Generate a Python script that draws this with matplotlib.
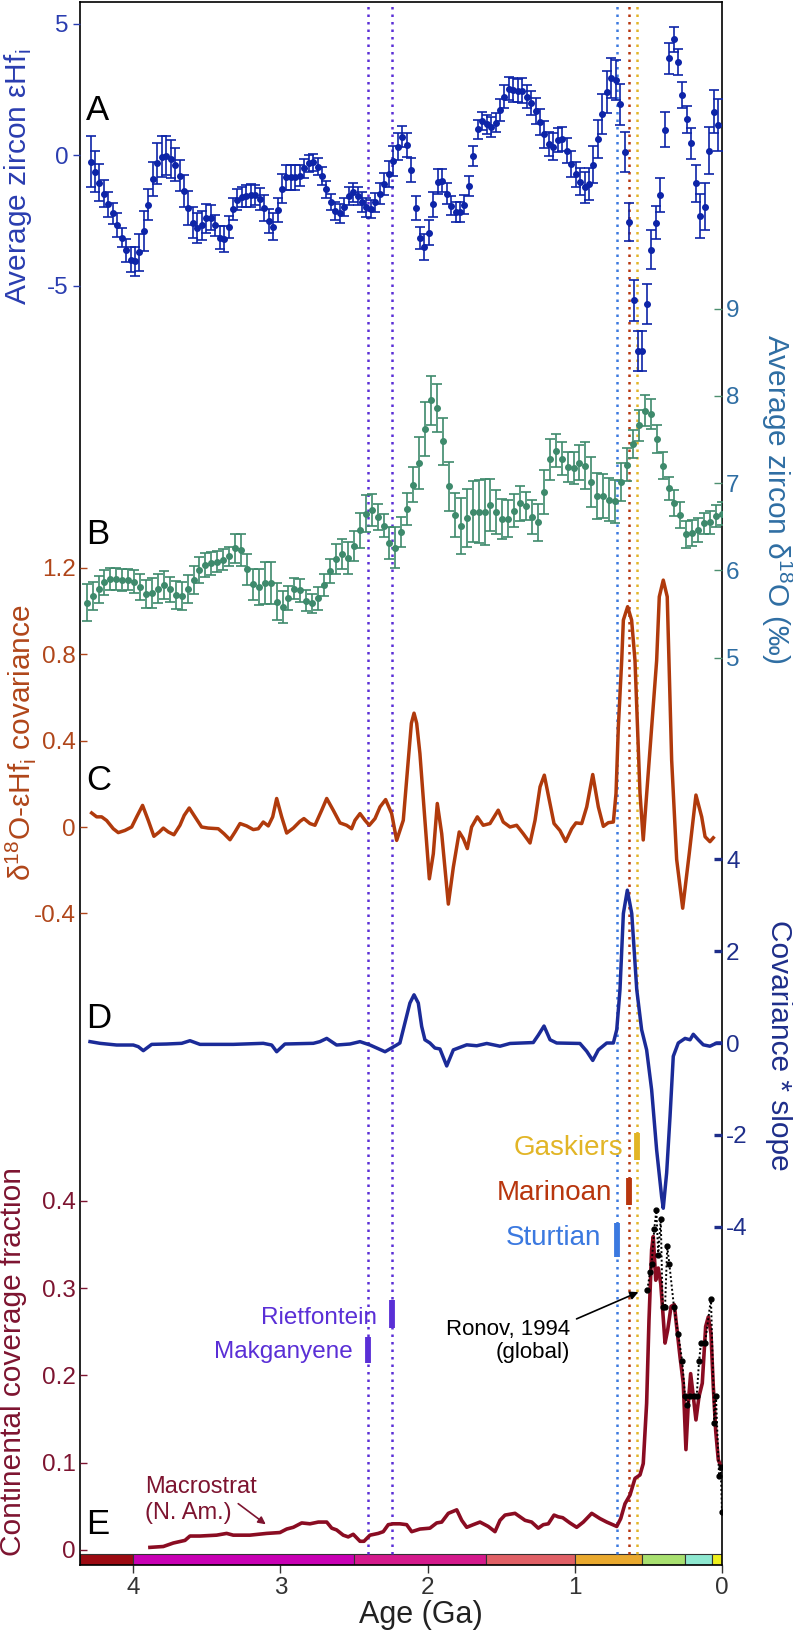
import numpy as np
import matplotlib
matplotlib.use('Agg')
import matplotlib.pyplot as plt

plt.rcParams['font.family'] = ['Liberation Sans', 'DejaVu Sans']
plt.rcParams['mathtext.fontset'] = 'custom'
plt.rcParams['mathtext.rm'] = 'Liberation Sans'
plt.rcParams['axes.unicode_minus'] = False

# ---- data ----
# A: average zircon eHf_i, bins every ~0.03 Ga (old -> young)
AGE_A = np.round(np.linspace(4.289, 0.027, 142), 3)
HF = [-0.26, -0.63, -1.06, -1.47, -1.88, -2.23, -2.68, -3.15, -3.64, -3.99,
      -4.06, -3.72, -2.90, -1.89, -0.92, -0.32, -0.06, -0.03, -0.14, -0.37,
      -0.79, -1.38, -2.03, -2.58, -2.77, -2.69, -2.42, -2.39, -2.69, -3.15,
      -3.21, -2.74, -2.07, -1.70, -1.62, -1.57, -1.54, -1.53, -1.68, -2.02,
      -2.51, -2.74, -2.10, -1.28, -0.85, -0.85, -0.85, -0.79, -0.51, -0.32,
      -0.28, -0.45, -0.80, -1.31, -1.79, -2.13, -2.23, -1.98, -1.56, -1.43,
      -1.57, -1.80, -2.00, -2.07, -1.81, -1.47, -1.11, -0.73, -0.24, 0.32,
      0.70, 0.38, -0.57, -2.02, -3.16, -3.51, -2.96, -1.88, -1.02, -0.98,
      -1.47, -1.94, -2.17, -2.17, -1.89, -1.19, -0.03, 0.98, 1.31, 1.17,
      1.07, 1.24, 1.71, 2.23, 2.53, 2.49, 2.46, 2.45, 2.23, 1.98,
      1.68, 1.26, 0.79, 0.41, 0.32, 0.57, 0.60, 0.17, -0.33, -0.73,
      -1.02, -1.24, -1.11, -0.37, 0.61, 1.56, 2.41, 2.95, 2.87, 1.93,
      0.11, -2.56, -5.55, -7.48, -7.48, -5.68, -3.61, -2.58, -1.54, 0.97,
      3.69, 4.41, 3.55, 2.30, 1.36, 0.45, -1.08, -2.33, -1.98, 0.17,
      1.66, 1.15]
HF_ERR = [0.97, 0.77, 0.70, 0.51, 0.48, 0.40, 0.45, 0.35, 0.43, 0.48,
          0.55, 0.70, 0.75, 0.60, 0.64, 0.77, 0.77, 0.75, 0.73, 0.64,
          0.60, 0.60, 0.65, 0.60, 0.57, 0.56, 0.54, 0.48, 0.41, 0.45,
          0.51, 0.41, 0.41, 0.41, 0.38, 0.41, 0.43, 0.38, 0.41, 0.48,
          0.45, 0.51, 0.45, 0.54, 0.48, 0.48, 0.48, 0.41, 0.36, 0.33,
          0.32, 0.32, 0.35, 0.32, 0.32, 0.35, 0.37, 0.34, 0.33, 0.38,
          0.35, 0.38, 0.35, 0.35, 0.35, 0.40, 0.41, 0.51, 0.57, 0.51,
          0.40, 0.45, 0.45, 0.46, 0.43, 0.48, 0.47, 0.47, 0.47, 0.45,
          0.41, 0.36, 0.38, 0.38, 0.38, 0.38, 0.39, 0.36, 0.35, 0.35,
          0.38, 0.37, 0.43, 0.43, 0.43, 0.45, 0.45, 0.47, 0.45, 0.45,
          0.48, 0.51, 0.52, 0.45, 0.51, 0.45, 0.46, 0.48, 0.50, 0.48,
          0.51, 0.60, 0.60, 0.70, 0.73, 0.77, 0.80, 0.77, 0.77, 0.77,
          0.75, 0.74, 0.77, 0.76, 0.76, 0.77, 0.73, 0.64, 0.65, 0.67,
          0.59, 0.48, 0.48, 0.49, 0.51, 0.59, 0.70, 0.85, 0.90, 0.90,
          0.83, 0.99]

# B: average zircon d18O, bins every ~0.04 Ga (old -> young)
AGE_B = np.round(np.linspace(4.316, 0.0, 108), 3)
D18O = [5.63, 5.70, 5.78, 5.86, 5.90, 5.90, 5.89, 5.89, 5.87, 5.81,
        5.73, 5.74, 5.79, 5.83, 5.78, 5.72, 5.70, 5.78, 5.89, 6.00,
        6.06, 6.08, 6.10, 6.12, 6.16, 6.25, 6.23, 6.01, 5.84, 5.81,
        5.85, 5.85, 5.64, 5.58, 5.68, 5.79, 5.77, 5.65, 5.62, 5.68,
        5.83, 5.99, 6.13, 6.19, 6.14, 6.28, 6.46, 6.65, 6.69, 6.61,
        6.51, 6.31, 6.26,
        6.44, 6.70, 6.98, 7.23, 7.62, 7.95, 7.86, 7.48, 6.96, 6.63,
        6.51, 6.60, 6.67, 6.67, 6.67, 6.75, 6.67, 6.59, 6.59, 6.68,
        6.77, 6.74, 6.61, 6.55, 6.90, 7.27, 7.37, 7.28, 7.18, 7.17,
        7.23, 7.20, 7.01, 6.85, 6.85, 6.81, 6.79, 7.01, 7.21, 7.45,
        7.66, 7.83, 7.79, 7.50, 7.20, 6.94, 6.77, 6.63, 6.41, 6.43,
        6.46, 6.54, 6.55, 6.62, 6.65]
D18O_ERR = [0.21, 0.16, 0.15, 0.14, 0.13, 0.13, 0.13, 0.12, 0.13, 0.15,
            0.16, 0.17, 0.17, 0.16, 0.14, 0.16, 0.16, 0.16, 0.16, 0.15,
            0.14, 0.13, 0.12, 0.12, 0.11, 0.17, 0.18, 0.18, 0.18, 0.21,
            0.24, 0.24, 0.21, 0.18, 0.14, 0.12, 0.13, 0.12, 0.11, 0.13,
            0.13, 0.14, 0.17, 0.17, 0.18, 0.17, 0.20, 0.21, 0.18, 0.15,
            0.13, 0.18, 0.23,
            0.17, 0.18, 0.20, 0.30, 0.31, 0.28, 0.27, 0.27, 0.28, 0.25,
            0.32, 0.33, 0.35, 0.36, 0.38, 0.30, 0.25, 0.23, 0.21, 0.19,
            0.20, 0.16, 0.19, 0.21, 0.25, 0.24, 0.19, 0.19, 0.17, 0.18,
            0.20, 0.27, 0.29, 0.26, 0.25, 0.25, 0.25, 0.22, 0.19, 0.16,
            0.18, 0.18, 0.17, 0.16, 0.15, 0.13, 0.15, 0.15, 0.16, 0.15,
            0.14, 0.12, 0.13, 0.13, 0.13]

# C: d18O-eHf covariance
AGE_C = [4.282, 4.248, 4.214, 4.180, 4.135, 4.101, 4.056, 4.010, 3.976, 3.936,
         3.897, 3.859, 3.822, 3.795, 3.761, 3.723, 3.682, 3.653, 3.619, 3.580,
         3.535, 3.490, 3.422, 3.383, 3.342, 3.308, 3.274, 3.229, 3.184, 3.150,
         3.116, 3.082, 3.052, 3.025, 2.991, 2.957, 2.912, 2.867, 2.840, 2.799,
         2.765, 2.719, 2.685, 2.641, 2.595, 2.550, 2.516, 2.493, 2.459, 2.425,
         2.396, 2.357, 2.323, 2.285, 2.244, 2.210, 2.165, 2.131, 2.110, 2.092,
         2.074, 2.052, 2.018, 1.988, 1.961, 1.934, 1.904, 1.859, 1.825, 1.785,
         1.757, 1.730, 1.701, 1.662, 1.622, 1.576, 1.520, 1.486, 1.440, 1.395,
         1.350, 1.304, 1.270, 1.236, 1.207, 1.173, 1.141, 1.101, 1.062, 1.021,
         0.992, 0.953, 0.919, 0.878, 0.840, 0.806, 0.772, 0.738, 0.720, 0.704,
         0.681, 0.670, 0.641, 0.614, 0.591, 0.557, 0.535, 0.478, 0.444, 0.426,
         0.399, 0.372, 0.342, 0.308, 0.267, 0.222, 0.177, 0.138, 0.115, 0.082,
         0.059]
COV = [0.065, 0.047, 0.047, 0.030, -0.008, -0.026, -0.016, 0.000, 0.047, 0.100,
       0.030, -0.043, -0.023, -0.005, -0.023, -0.036, 0.008, 0.054, 0.088, 0.047,
       0.000, -0.005, -0.008, -0.031, -0.059, -0.023, 0.016, 0.005, -0.012, -0.008,
       0.023, 0.005, 0.047, 0.132, 0.047, -0.028, -0.005, 0.026, 0.039, 0.016,
       0.008, 0.078, 0.132, 0.078, 0.019, 0.008, -0.008, 0.031, 0.062, 0.031,
       0.008, 0.039, 0.093, 0.127, 0.062, -0.062, 0.031, 0.310, 0.480, 0.527,
       0.480, 0.340, 0.031, -0.240, -0.124, 0.109, -0.031, -0.357, -0.186, -0.023,
       -0.054, -0.100, 0.000, 0.047, 0.008, 0.016, 0.078, 0.023, 0.000, 0.008,
       -0.031, -0.074, 0.031, 0.186, 0.240, 0.124, 0.016, -0.016, -0.067, -0.008,
       0.019, 0.016, 0.093, 0.243, 0.093, 0.003, 0.020, 0.023, 0.155, 0.465,
       0.775, 0.958, 1.020, 0.958, 0.770, 0.157, -0.060, 0.460, 0.770, 1.066,
       1.143, 1.066, 0.310, -0.150, -0.376, -0.120, 0.148, 0.047, -0.045, -0.068,
       -0.050]

# D: covariance * slope
AGE_D = [4.293, 4.226, 4.112, 3.999, 3.965, 3.931, 3.874, 3.772, 3.670, 3.614,
         3.546, 3.320, 3.116, 3.059, 3.025, 2.969, 2.776, 2.731, 2.685, 2.618,
         2.527, 2.459, 2.391, 2.289, 2.210, 2.188, 2.154, 2.120, 2.092, 2.063,
         2.040, 2.018, 1.984, 1.950, 1.916, 1.870, 1.825, 1.734, 1.666, 1.598,
         1.508, 1.440, 1.282, 1.248, 1.209, 1.168, 1.123, 0.965, 0.919, 0.878,
         0.840, 0.783, 0.738, 0.715, 0.693, 0.670, 0.643, 0.613, 0.579, 0.546,
         0.512, 0.478, 0.444, 0.410, 0.399, 0.376, 0.353, 0.331, 0.297, 0.251,
         0.217, 0.195, 0.161, 0.127, 0.082, 0.036, 0.002]
COV_SLOPE = [0.03, -0.007, -0.044, -0.044, -0.08, -0.167, -0.03, -0.022, -0.007, 0.05,
             -0.03, -0.03, -0.007, -0.044, -0.19, -0.022, -0.007, 0.03, 0.10, -0.044,
             -0.022, 0.03, -0.044, -0.19, -0.044, 0.0, 0.436, 0.87, 1.05, 0.87,
             0.36, 0.07, 0.0, -0.11, -0.13, -0.50, -0.15, -0.04, -0.06, -0.01,
             -0.07, -0.01, 0.01, 0.17, 0.37, 0.07, 0.0, -0.01, -0.18, -0.38,
             -0.15, 0.0, 0.0, 0.29, 1.16, 2.82, 3.33, 2.82, 1.16, 0.29,
             -0.15, -1.02, -2.33, -3.35, -3.60, -2.83, -1.60, -0.29, 0.0, 0.10,
             0.07, 0.19, 0.07, -0.04, -0.07, 0.0, 0.0]

# E: continental coverage fraction (Macrostrat, N. America)
AGE_E = [3.886, 3.795, 3.727, 3.648, 3.614, 3.546, 3.433, 3.365, 3.320, 3.207,
         3.093, 3.003, 2.957, 2.912, 2.855, 2.799, 2.742, 2.685, 2.651, 2.618,
         2.573, 2.539, 2.505, 2.459, 2.432, 2.391, 2.335, 2.301, 2.267, 2.233,
         2.188, 2.142, 2.108, 2.052, 1.984, 1.938, 1.904, 1.859, 1.802, 1.768,
         1.734, 1.690, 1.644, 1.588, 1.542, 1.508, 1.474, 1.406, 1.338, 1.293,
         1.248, 1.214, 1.180, 1.141, 1.112, 1.082, 1.033, 0.987, 0.942, 0.885,
         0.829, 0.783, 0.715, 0.688, 0.659, 0.625, 0.591, 0.557, 0.535, 0.512,
         0.496, 0.478, 0.467, 0.450, 0.433, 0.416, 0.403, 0.387, 0.369, 0.346,
         0.324, 0.308, 0.285, 0.263, 0.245, 0.229, 0.213, 0.195, 0.177, 0.156,
         0.134, 0.111, 0.093, 0.075, 0.059, 0.043, 0.025, 0.002]
MACROSTRAT = [0.003, 0.004, 0.008, 0.011, 0.016, 0.016, 0.017, 0.019, 0.017, 0.017,
              0.019, 0.020, 0.024, 0.026, 0.031, 0.030, 0.032, 0.032, 0.025, 0.023,
              0.017, 0.015, 0.018, 0.010, 0.010, 0.017, 0.019, 0.021, 0.029, 0.030,
              0.030, 0.029, 0.021, 0.024, 0.025, 0.031, 0.032, 0.042, 0.046, 0.034,
              0.026, 0.029, 0.032, 0.027, 0.021, 0.034, 0.040, 0.042, 0.034, 0.032,
              0.025, 0.029, 0.030, 0.040, 0.038, 0.037, 0.031, 0.026, 0.032, 0.042,
              0.036, 0.032, 0.027, 0.036, 0.053, 0.063, 0.082, 0.086, 0.099, 0.168,
              0.263, 0.344, 0.359, 0.309, 0.323, 0.305, 0.275, 0.237, 0.252, 0.279,
              0.281, 0.256, 0.221, 0.191, 0.115, 0.168, 0.202, 0.176, 0.149, 0.176,
              0.191, 0.256, 0.267, 0.248, 0.187, 0.137, 0.103, 0.094]

# Ronov 1994 (global)
AGE_RONOV = [0.507, 0.489, 0.478, 0.460, 0.446, 0.433, 0.416, 0.403, 0.387, 0.372,
             0.358, 0.326, 0.297, 0.270, 0.251, 0.236, 0.217, 0.190, 0.172, 0.156,
             0.143, 0.115, 0.075, 0.052, 0.041, 0.020, 0.009, 0.0]
RONOV = [0.298, 0.318, 0.328, 0.368, 0.389, 0.338, 0.379, 0.278, 0.278, 0.348,
         0.328, 0.278, 0.247, 0.216, 0.176, 0.166, 0.176, 0.176, 0.176, 0.216,
         0.237, 0.237, 0.288, 0.146, 0.176, 0.085, 0.095, 0.044]

# glaciations
GLAC_NAMES = ['Makganyene', 'Rietfontein', 'Sturtian', 'Marinoan', 'Gaskiers']
GLAC_AGES = [2.403, 2.244, 0.716, 0.632, 0.578]
GLAC_COLORS = ['#5a2fd6', '#5a2fd6', '#3b79e0', '#b8360e', '#e2b526']

# geologic time scale
TS_EDGES = [4.36, 4.0, 2.5, 1.6, 1.0, 0.541, 0.252, 0.066, 0.0]
TS_COLORS = ['#9c0a12', '#c800b4', '#d41a8c', '#e06066', '#e9a92e',
             '#a8e070', '#8ee8d0', '#eef01c']

# ---- layout (pixels of the 793 x 1638 picture) ----
W, H = 793, 1638
L, R, TOP, BOT = 80, 722, 2, 1565
TICK_FS = 17.5


def fx(px):
    return px / W


def fy(py):
    return 1 - py / H


def span(v0, p0, ppu):
    return (v0 - (BOT - p0) / ppu, v0 + (p0 - TOP) / ppu)


fig = plt.figure(figsize=(W / 100, H / 100), dpi=100)
ax = fig.add_axes([fx(L), fy(BOT), (R - L) / W, (BOT - TOP) / H])
ax.set_xlim(4.361, 0)
ax.set_ylim(0, 1)
ax.set_yticks([])
for s in ax.spines.values():
    s.set_linewidth(1.2)
ax.set_xticks([4, 3, 2, 1, 0])
ax.set_xticklabels(['4', '3', '2', '1', '0'])
ax.tick_params(axis='x', direction='out', length=6, width=1, colors='#333333',
               labelsize=TICK_FS, pad=3)

bar_h = (BOT - 1554) / (BOT - TOP)
for i in range(len(TS_COLORS)):
    ax.axvspan(TS_EDGES[i + 1], TS_EDGES[i], ymin=0, ymax=bar_h,
               facecolor=TS_COLORS[i], edgecolor='#333333', lw=0.8)

for a, c in zip(GLAC_AGES, GLAC_COLORS):
    ax.plot([a, a], [bar_h, 1], color=c, lw=1.8, ls=(0, (1, 2)), zorder=1)


def panel(side, lim, ticks, labels, col, tdir, tlen, twid, tcol):
    p = ax.twinx()
    for s in p.spines.values():
        s.set_visible(False)
    if side == 'left':
        p.yaxis.tick_left()
    p.set_ylim(*lim)
    p.set_yticks(ticks)
    p.set_yticklabels(labels)
    p.tick_params(axis='y', direction=tdir, length=tlen, width=twid, color=tcol,
                  labelcolor=col, labelsize=TICK_FS, pad=3)
    return p


pA = panel('left', span(0, 155, 26.2), [-5, 0, 5], ['-5', '0', '5'],
           '#2a3db0', 'out', 5, 1, '#2a3db0')
pB = panel('right', span(7, 483, 87.25), [5, 6, 7, 8, 9], ['5', '6', '7', '8', '9'],
           '#2f6ea3', 'in', 6, 1, '#4d8f70')
pC = panel('left', span(0, 827, 216), [-0.4, 0, 0.4, 0.8, 1.2],
           ['-0.4', '0', '0.4', '0.8', '1.2'], '#b0461a', 'in', 5, 1, '#b0461a')
pD = panel('right', span(0, 1043, 45.9), [-4, -2, 0, 2, 4], ['-4', '-2', '0', '2', '4'],
           '#1e2e8a', 'in', 6, 2.4, '#1e2e8a')
pE = panel('left', span(0, 1550, 873), [0, 0.1, 0.2, 0.3, 0.4],
           ['0', '0.1', '0.2', '0.3', '0.4'], '#7d1430', 'in', 5, 1, '#7d1430')

pA.errorbar(AGE_A, HF, yerr=HF_ERR, fmt='o', ms=4, color='#0d24a8',
            ecolor='#0d24a8', elinewidth=1.2, capsize=3.6, capthick=1.2)
pB.errorbar(AGE_B, D18O, yerr=D18O_ERR, fmt='o', ms=4, color='#3e8a6c',
            ecolor='#3e8a6c', elinewidth=1.2, capsize=3.6, capthick=1.2)
pC.plot(AGE_C, COV, color='#b03a0c', lw=2.5, solid_joinstyle='round')
pD.plot(AGE_D, COV_SLOPE, color='#1b2b98', lw=2.5, solid_joinstyle='round')
pE.plot(AGE_E, MACROSTRAT, color='#8a0c22', lw=2.6, solid_joinstyle='round')
pE.plot(AGE_RONOV, RONOV, color='k', lw=1.4, ls=(0, (1, 1.2)), marker='o', ms=3.5)

# glaciation duration bars and labels
tr = ax.get_xaxis_transform()


def yfrac(py):
    return (BOT - py) / (BOT - TOP)


bars = {'Gaskiers': (1133, 1160), 'Marinoan': (1178, 1205), 'Sturtian': (1223, 1257),
        'Rietfontein': (1300, 1328), 'Makganyene': (1337, 1363)}
for name, a, c in zip(GLAC_NAMES, GLAC_AGES, GLAC_COLORS):
    y0, y1 = bars[name]
    ax.plot([a, a], [yfrac(y0), yfrac(y1)], transform=tr, color=c, lw=4.2,
            solid_capstyle='butt', zorder=3)

lab_pos = {'Gaskiers': (623, 1148, 20), 'Marinoan': (612, 1193, 20),
           'Sturtian': (601, 1238, 20), 'Rietfontein': (377, 1318, 17.5),
           'Makganyene': (353, 1352, 17.5)}
for name, c in zip(GLAC_NAMES, GLAC_COLORS):
    x, y, fs = lab_pos[name]
    fig.text(fx(x), fy(y), name, color=c, fontsize=fs, ha='right', va='center')

# panel letters
for letter, y in zip('ABCDE', [111, 535, 780, 1019, 1525]):
    fig.text(fx(86), fy(y), letter, fontsize=25, ha='left', va='center', color='k')

# axis labels
fig.text(fx(18), fy(177), 'Average zircon εHf$_\\mathregular{i}$', color='#2a3db0',
         fontsize=21.5, rotation=90, ha='center', va='center')
fig.text(fx(777), fy(499), 'Average zircon δ$^\\mathregular{18}$O (‰)', color='#2f6ea3',
         fontsize=21.5, rotation=270, ha='center', va='center')
fig.text(fx(21), fy(743), 'δ$^\\mathregular{18}$O-εHf$_\\mathregular{i}$ covariance',
         color='#b0461a', fontsize=21.5, rotation=90, ha='center', va='center')
fig.text(fx(779), fy(1045), 'Covariance * slope', color='#1e2e8a',
         fontsize=21.5, rotation=270, ha='center', va='center')
fig.text(fx(13), fy(1362), 'Continental coverage fraction', color='#7d1430',
         fontsize=21.5, rotation=90, ha='center', va='center')
fig.text(fx(421), fy(1615), 'Age (Ga)', color='#222222', fontsize=22,
         ha='center', va='center')

# annotations
fig.text(fx(570), fy(1341), 'Ronov, 1994\n(global)', fontsize=16, ha='right',
         va='center', multialignment='right', color='k', linespacing=1.15)
ax.annotate('', xy=(fx(641), fy(1291)), xytext=(fx(574), fy(1320)),
            xycoords='figure fraction', textcoords='figure fraction',
            arrowprops=dict(arrowstyle='-|>', color='k', lw=1.2, mutation_scale=12))
fig.text(fx(145), fy(1500), 'Macrostrat\n(N. Am.)', fontsize=17, ha='left',
         va='center', color='#7d1430', linespacing=1.2)
ax.annotate('', xy=(fx(268), fy(1526)), xytext=(fx(236), fy(1502)),
            xycoords='figure fraction', textcoords='figure fraction',
            arrowprops=dict(arrowstyle='-|>', color='#7d1430', lw=1.2, mutation_scale=11))

fig.savefig('out.png', dpi=100)
